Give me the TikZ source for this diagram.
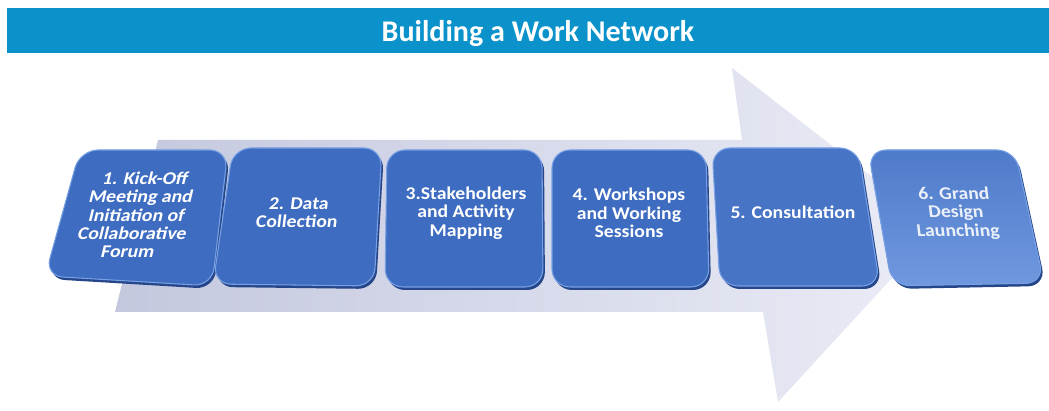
\documentclass[tikz,border=0pt]{standalone}
\usepackage{xcolor}
\usepackage{fontspec}
\setmainfont{Carlito}
\newfontfamily\stepfont{Carlito}[FakeStretch=1.1]
\usepackage{tikz}

\definecolor{titleblue}{RGB}{12,146,202}
\definecolor{boxblue}{RGB}{62,108,192}
\definecolor{boxrim}{RGB}{120,160,228}
\definecolor{boxshadow}{RGB}{38,70,138}
\definecolor{arrowdark}{RGB}{196,200,222}
\definecolor{arrowlight}{RGB}{234,236,246}

\tikzset{
  stepbox/.style={fill=boxblue, draw=boxrim, line width=0.6pt, rounded corners=3.6mm},
  stepshadow/.style={fill=boxshadow, rounded corners=3.6mm, shift={(2,3)}},
  steptext/.style={text=white, align=center, inner sep=0pt,
    font=\stepfont\bfseries\fontsize{10.2}{10.4}\selectfont},
}

\begin{document}
\begin{tikzpicture}[x=0.02cm, y=-0.02cm]
        \useasboundingbox (0,0) rectangle (1049,411);
        % heading
        \fill[titleblue] (7,8) rectangle (1049,53);
        \node[anchor=base, text=white, font=\bfseries\fontsize{17.1}{18}\selectfont] (title) at (538,42) {Building a Work Network};
        % big arrow behind the steps
        \shade[left color=arrowdark, right color=arrowlight] (158,140) -- (742,140) -- (732,68) -- (938,228) -- (778,402) -- (763,312) -- (115,312) -- cycle;
        % step boxes
        \fill[stepshadow] (80,150) -- (228,150) -- (212,286) -- (45,276) -- cycle;
        \draw[stepbox] (80,150) -- (228,150) -- (212,286) -- (45,276) -- cycle;
        \fill[stepshadow] (233,148) -- (382,148) -- (374,286) -- (213,284) -- cycle;
        \draw[stepbox] (233,148) -- (382,148) -- (374,286) -- (213,284) -- cycle;
        \fill[stepshadow] (387,150) -- (542,150) -- (543,287) -- (385,287) -- cycle;
        \draw[stepbox] (387,150) -- (542,150) -- (543,287) -- (385,287) -- cycle;
        \fill[stepshadow] (552,150) -- (706,150) -- (709,287) -- (552,287) -- cycle;
        \draw[stepbox] (552,150) -- (706,150) -- (709,287) -- (552,287) -- cycle;
        \fill[stepshadow] (712,148) -- (858,148) -- (880,286) -- (720,286) -- cycle;
        \draw[stepbox, fill=boxblue!85!boxrim] (712,148) -- (858,148) -- (880,286) -- (720,286) -- cycle;
        \fill[stepshadow] (868,150) -- (1015,150) -- (1044,283) -- (892,286) -- cycle;
        \draw[stepbox, top color=boxblue!72!boxrim, bottom color=boxrim!85!boxblue] (868,150) -- (1015,150) -- (1044,283) -- (892,286) -- cycle;
        % step labels
        \node[steptext, xslant=0.24, transform shape] (kickoff) at (137,215) {1. Kick-Off\\Meeting and\\Initiation of\\Collaborative\\Forum};
        \node[steptext, xslant=0.12, transform shape] (data) at (298,213) {2. Data\\Collection};
        \node[steptext] (mapping) at (466,213) {3.Stakeholders\\and Activity\\Mapping};
        \node[steptext] (workshops) at (629,213) {4. Workshops\\and Working\\Sessions};
        \node[steptext] (consult) at (793,212) {5. Consultation};
        \node[steptext, text=white!90!boxblue, xslant=-0.12, transform shape] (launch) at (956,213) {6. Grand\\Design\\Launching};
      \end{tikzpicture}
\end{document}
